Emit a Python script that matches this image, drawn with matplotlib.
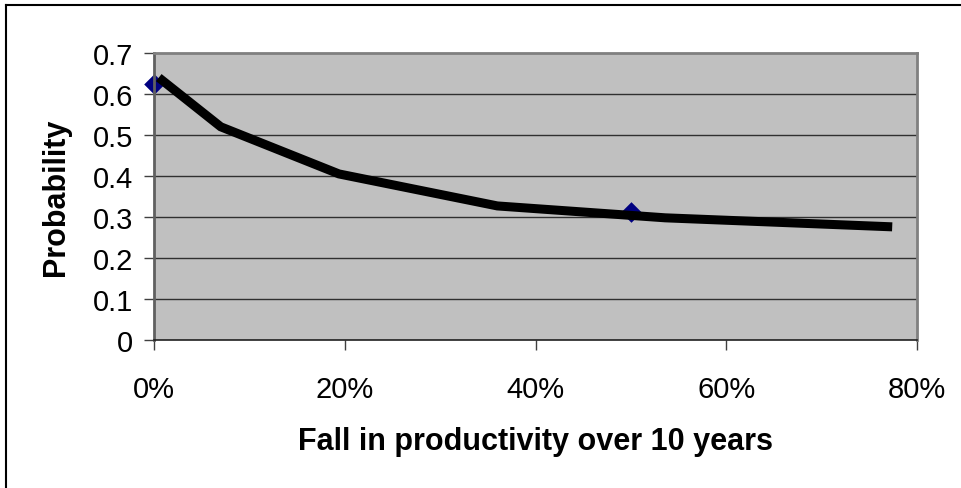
import matplotlib.pyplot as plt
from matplotlib.lines import Line2D
from matplotlib.ticker import FuncFormatter

# data
curve_x = [0.005, 0.07, 0.194, 0.36, 0.536, 0.774]
curve_y = [0.64, 0.52, 0.405, 0.327, 0.298, 0.276]
obs_x = [0.0, 0.5]
obs_y = [0.625, 0.312]
x_ticks = [0.0, 0.2, 0.4, 0.6, 0.8]
y_ticks = [0, 0.1, 0.2, 0.3, 0.4, 0.5, 0.6, 0.7]

plt.rcParams['font.family'] = ['Liberation Sans', 'DejaVu Sans']

W, H = 961, 489
fig = plt.figure(figsize=(W / 100, H / 100), dpi=100)
fig.patch.set_facecolor('white')

# outer chart frame (only left/top visible)
fig.add_artist(Line2D([6 / W, 6 / W], [0, 1 - 6 / H], color='black', lw=1.5,
                      transform=fig.transFigure))
fig.add_artist(Line2D([6 / W, 1], [1 - 6 / H, 1 - 6 / H], color='black', lw=1.5,
                      transform=fig.transFigure))

ax = fig.add_axes([154 / W, (H - 341) / H, 763 / W, 287 / H])
ax.set_facecolor('#c0c0c0')

for y in y_ticks[1:-1]:
    ax.axhline(y, color='#303030', lw=1, zorder=1)

ax.plot(curve_x, curve_y, color='black', lw=6.5, solid_joinstyle='miter',
        solid_capstyle='butt', zorder=3)
ax.scatter(obs_x, obs_y, marker='D', s=110, color='#000080', zorder=2,
           clip_on=False, linewidths=0)

ax.set_xlim(0, 0.8)
ax.set_ylim(0, 0.7)
ax.set_xticks(x_ticks)
ax.set_yticks(y_ticks)
ax.xaxis.set_major_formatter(FuncFormatter(lambda v, p: '%d%%' % round(v * 100)))
ax.yaxis.set_major_formatter(FuncFormatter(lambda v, p: '0' if v == 0 else '%g' % v))

for s in ax.spines.values():
    s.set_color('#808080')
    s.set_linewidth(2)
ax.spines['left'].set_color('#606060')
ax.spines['bottom'].set_color('#202020')
ax.spines['bottom'].set_linewidth(1.2)

ax.tick_params(axis='both', direction='out', length=7, width=1, color='#404040',
               labelsize=21, labelcolor='black')
ax.tick_params(axis='x', pad=18)
ax.tick_params(axis='y', pad=8)

ax.set_xlabel('Fall in productivity over 10 years', fontsize=22,
              fontweight='bold', labelpad=17)
ax.set_ylabel('Probability', fontsize=22, fontweight='bold', labelpad=16)

fig.savefig('out.png', dpi=100)
